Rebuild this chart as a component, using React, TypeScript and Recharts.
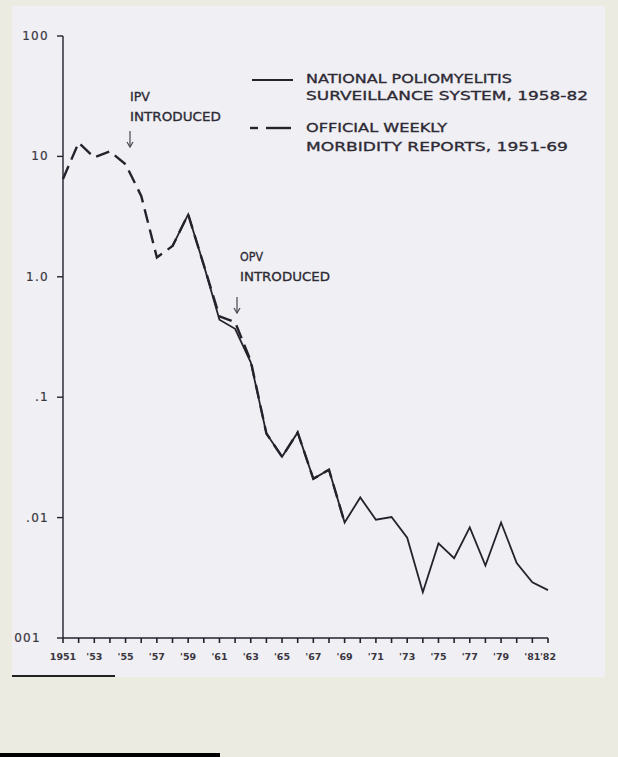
import React from "react";
import { LineChart, Line, XAxis, YAxis } from "recharts";

// rate per 100,000
const years = [
  1951, 1952, 1953, 1954, 1955, 1956, 1957, 1958, 1959, 1960, 1961, 1962, 1963, 1964, 1965, 1966,
  1967, 1968, 1969, 1970, 1971, 1972, 1973, 1974, 1975, 1976, 1977, 1978, 1979, 1980, 1981, 1982,
];

// Official weekly morbidity reports, 1951-69 (dashed)
const weeklyYears = [
  1951, 1952, 1953, 1954, 1955, 1956, 1957, 1958, 1959, 1960, 1961, 1962, 1963, 1964, 1965, 1966,
  1967, 1968, 1969,
];
const weeklyRates = [
  6.5, 13, 9.8, 11, 8.6, 4.7, 1.45, 1.8, 3.3, 1.25, 0.47, 0.42, 0.2, 0.05, 0.032, 0.051, 0.021,
  0.025, 0.0091,
];

// National Poliomyelitis Surveillance System, 1958-82 (solid)
const nationalYears = [
  1958, 1959, 1960, 1961, 1962, 1963, 1964, 1965, 1966, 1967, 1968, 1969, 1970, 1971, 1972, 1973,
  1974, 1975, 1976, 1977, 1978, 1979, 1980, 1981, 1982,
];
const nationalRates = [
  1.8, 3.3, 1.25, 0.44, 0.37, 0.195, 0.05, 0.032, 0.051, 0.021, 0.025, 0.0091, 0.0147, 0.0096,
  0.0101, 0.0068, 0.0024, 0.0061, 0.0046, 0.0083, 0.004, 0.0091, 0.0042, 0.0029, 0.0025,
];

const yTicks = [0.001, 0.01, 0.1, 1, 10, 100];
const yTickLabels = ["001", ".01", ".1", "1.0", "10", "100"];

const xLabelYears = [1951, 1953, 1955, 1957, 1959, 1961, 1963, 1965, 1967, 1969, 1971, 1973, 1975, 1977, 1979, 1981, 1982];
const xLabels = ["1951", "'53", "'55", "'57", "'59", "'61", "'63", "'65", "'67", "'69", "'71", "'73", "'75", "'77", "'79", "'81", "'82"];

const data = years.map((year) => {
  const wi = weeklyYears.indexOf(year);
  const ni = nationalYears.indexOf(year);
  return {
    year,
    weekly: wi >= 0 ? weeklyRates[wi] : undefined,
    national: ni >= 0 ? nationalRates[ni] : undefined,
  };
});

const ink = "#26222c";
const textInk = "#2e2a34";
const font = "'DejaVu Sans', sans-serif";

function fmtX(v: number) {
  const i = xLabelYears.indexOf(v);
  return i >= 0 ? xLabels[i] : "";
}

function YTick(props: any) {
  const { x, y, payload } = props;
  const i = yTicks.findIndex((t) => Math.abs(t - payload.value) / t < 1e-6);
  if (i < 0) return null;
  const label = yTickLabels[i];
  // the ".001" label is clipped by the scan, only "001" is left and it sits further left
  const shift = label === "001" ? 8 : 0;
  return (
    <text
      x={x - 4 - shift}
      y={y}
      textAnchor="end"
      dominantBaseline="central"
      fontSize={12}
      letterSpacing={1.3}
      fontFamily={font}
      fill="#3a3640"
      stroke="#3a3640"
      strokeWidth={0.2}
    >
      {label}
    </text>
  );
}

function Txt({ x, y, len, children }: { x: number; y: number; len: number; children: string }) {
  return (
    <text
      x={x}
      y={y}
      dominantBaseline="central"
      fontSize={11.5}
      fontFamily={font}
      fill={textInk}
      stroke={textInk}
      strokeWidth={0.3}
      textLength={len}
      lengthAdjust="spacingAndGlyphs"
    >
      {children}
    </text>
  );
}

function Arrow({ x, y1, y2 }: { x: number; y1: number; y2: number }) {
  return (
    <g stroke="#4a4650" strokeWidth={1.2} fill="none">
      <line x1={x} y1={y1} x2={x} y2={y2} />
      <polyline points={`${x - 3},${y2 - 5} ${x},${y2} ${x + 3},${y2 - 5}`} />
    </g>
  );
}

export default function App() {
  return (
    <div
      style={{
        position: "absolute",
        left: 0,
        top: 0,
        width: 618,
        height: 757,
        background: "#ecebe1",
        overflow: "hidden",
      }}
    >
      <div
        style={{
          position: "absolute",
          left: 12,
          top: 6,
          width: 593,
          height: 671,
          background: "#efeff4",
        }}
      />
      <div style={{ position: "absolute", left: 12, top: 675, width: 103, height: 2, background: "#222" }} />
      <div style={{ position: "absolute", left: 0, top: 753, width: 220, height: 4, background: "#000" }} />

      <div style={{ position: "absolute", left: 0, top: 0 }}>
        <LineChart
          width={618}
          height={757}
          data={data}
          margin={{ top: 36, right: 70, left: 13, bottom: 89 }}
        >
          <XAxis
            dataKey="year"
            type="number"
            domain={[1951, 1982]}
            ticks={years}
            interval={0}
            tickFormatter={fmtX}
            height={30}
            tickSize={5}
            tickMargin={10}
            stroke={ink}
            strokeWidth={1.6}
            tick={{ fontSize: 9.5, fontWeight: "bold", fill: "#3a3640", fontFamily: font }}
          />
          <YAxis
            type="number"
            scale="log"
            domain={[0.001, 100]}
            ticks={yTicks}
            interval={0}
            allowDataOverflow
            tick={<YTick />}
            width={50}
            tickSize={6}
            tickMargin={4}
            stroke={ink}
            strokeWidth={1.4}
          />
          <Line
            type="linear"
            dataKey="weekly"
            stroke={ink}
            strokeWidth={2.4}
            strokeDasharray="14 7"
            dot={false}
            isAnimationActive={false}
          />
          <Line
            type="linear"
            dataKey="national"
            stroke={ink}
            strokeWidth={1.8}
            dot={false}
            isAnimationActive={false}
          />
        </LineChart>
      </div>

      <svg
        width={618}
        height={757}
        style={{ position: "absolute", left: 0, top: 0, pointerEvents: "none" }}
      >
        {/* legend */}
        <line x1={252} y1={80} x2={293} y2={80} stroke={ink} strokeWidth={2} />
        <Txt x={306} y={79} len={206}>NATIONAL POLIOMYELITIS</Txt>
        <Txt x={306} y={96} len={282}>SURVEILLANCE SYSTEM, 1958-82</Txt>
        <line x1={250} y1={128} x2={258} y2={128} stroke={ink} strokeWidth={2.4} />
        <line x1={266} y1={128} x2={291} y2={128} stroke={ink} strokeWidth={2.4} />
        <Txt x={306} y={128} len={141}>OFFICIAL WEEKLY</Txt>
        <Txt x={306} y={147} len={262}>MORBIDITY REPORTS, 1951-69</Txt>

        {/* annotations */}
        <Txt x={130} y={97} len={20}>IPV</Txt>
        <Txt x={130} y={117} len={91}>INTRODUCED</Txt>
        <Arrow x={130} y1={131} y2={147} />
        <Txt x={240} y={257} len={23}>OPV</Txt>
        <Txt x={240} y={277} len={90}>INTRODUCED</Txt>
        <Arrow x={237} y1={297} y2={313} />
      </svg>
    </div>
  );
}
